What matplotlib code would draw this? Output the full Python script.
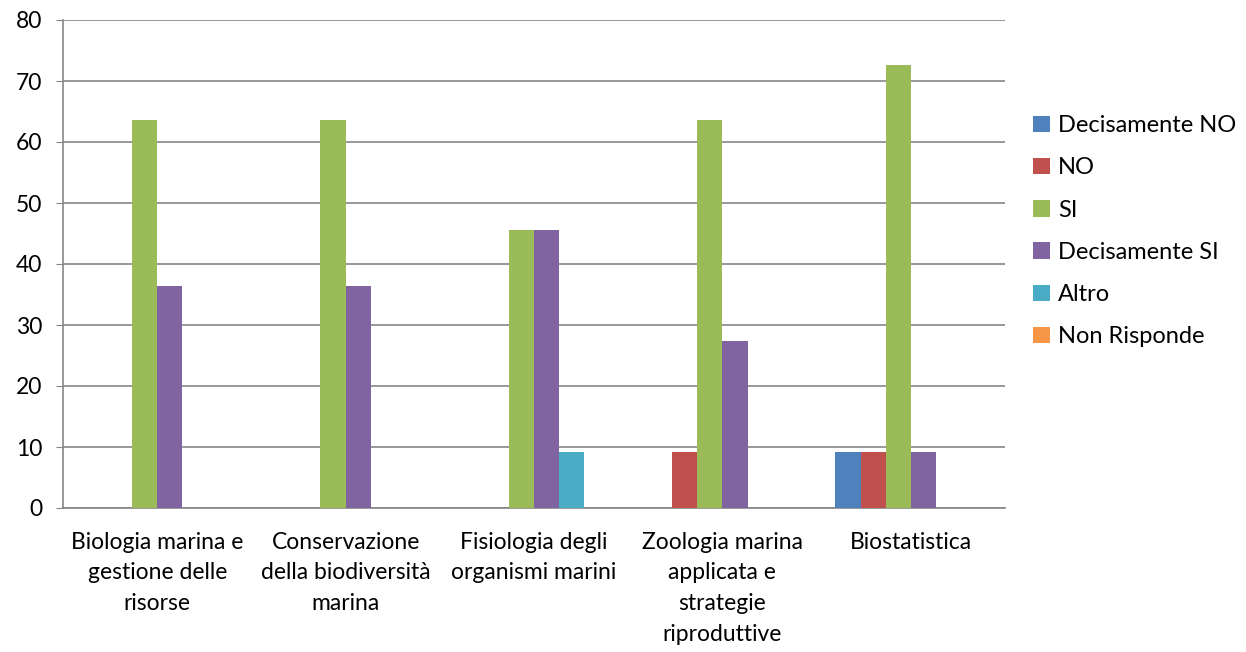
import numpy as np
import matplotlib.pyplot as plt

categories = [
    "Biologia marina e\ngestione delle\nrisorse",
    "Conservazione\ndella biodiversità\nmarina",
    "Fisiologia degli\norganismi marini",
    "Zoologia marina\napplicata e\nstrategie\nriproduttive",
    "Biostatistica",
]
series_names = ["Decisamente NO", "NO", "SI", "Decisamente SI", "Altro", "Non Risponde"]
decisamente_no = [0, 0, 0, 0, 9.1]
no = [0, 0, 0, 9.1, 9.1]
si = [63.6, 63.6, 45.5, 63.6, 72.7]
decisamente_si = [36.4, 36.4, 45.5, 27.3, 9.1]
altro = [0, 0, 9.1, 0, 0]
non_risponde = [0, 0, 0, 0, 0]
colors = ["#4F81BD", "#C0504D", "#9BBB59", "#8064A2", "#4BACC6", "#F79646"]

plt.rcParams['font.family'] = ['Lato', 'DejaVu Sans']

fig = plt.figure(figsize=(12.46, 6.52), dpi=100)
ax = fig.add_axes([63 / 1246, 1 - 508 / 652, (1005 - 63) / 1246, (508 - 20) / 652])

all_series = [decisamente_no, no, si, decisamente_si, altro, non_risponde]
x = np.arange(len(categories))
width = 0.8 / len(all_series)
for i, (name, vals) in enumerate(zip(series_names, all_series)):
    offs = (i - (len(all_series) - 1) / 2) * width
    ax.bar(x + offs, vals, width, color=colors[i], label=name, linewidth=0, zorder=3)

ax.set_xlim(-0.5, len(categories) - 0.5)
ax.set_ylim(0, 80)
ax.set_yticks(range(0, 81, 10))
ax.yaxis.grid(True, color="#868686", linewidth=1.2, zorder=0)
ax.set_xticks(x)
ax.set_xticklabels(categories, fontsize=16.5, linespacing=1.58)
ax.tick_params(axis="x", length=0, pad=17)
ax.tick_params(axis="y", length=5, color="#868686", labelsize=16.5, pad=10)
for s in ["top", "right"]:
    ax.spines[s].set_visible(False)
for s in ["left", "bottom"]:
    ax.spines[s].set_color("#868686")
    ax.spines[s].set_linewidth(1.2)

ax.legend(loc="center left", bbox_to_anchor=(1.02, 0.567), frameon=False,
          fontsize=17, handlelength=0.7, handleheight=0.7, labelspacing=0.9,
          handletextpad=0.35, borderaxespad=0)

fig.savefig("out.png", dpi=100)
